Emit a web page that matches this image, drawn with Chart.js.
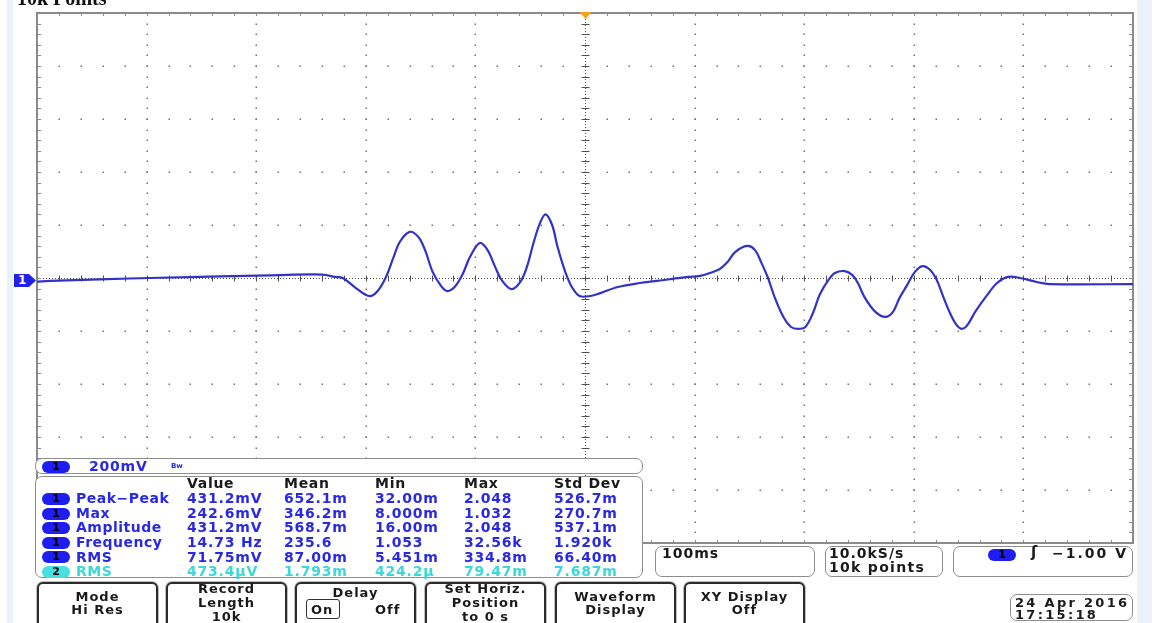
<!DOCTYPE html>
<html>
<head>
<meta charset="utf-8">
<script src="https://cdn.jsdelivr.net/npm/chart.js@4.4.1/dist/chart.umd.min.js"></script>
<style>
body { margin: 0; background: #fff; }
#scope { position: relative; width: 1152px; height: 623px; overflow: hidden; background: #fff;
  font-family: "DejaVu Sans", sans-serif; font-weight: bold; }
#scope canvas { position: absolute; left: 0; top: 0; }
.t { position: absolute; white-space: nowrap; }
.box { position: absolute; box-sizing: border-box; border: 1.5px solid #8e8e8e; border-radius: 7px; background: #fff; }
.pill { position: absolute; box-sizing: border-box; width: 28px; height: 12px; border-radius: 6px;
  font-size: 11px; line-height: 12px; text-align: center; color: #000; }
.btn { position: absolute; top: 582px; width: 121px; height: 50px; box-sizing: border-box;
  border: 2px solid #2b2b2b; border-radius: 6px 6px 0 0; box-shadow: 0 0 0 1px #bdbdbd; background: #fff; }
.strip { position: absolute; top: 0; height: 623px; background: #ebf1f9; }
</style>
</head>
<body>
<div id="scope">
  <canvas id="scopeChart" width="1152" height="623"></canvas>
</div>
<script>
// ch1 trace, 100ms/div and 200mV/div
const timeMs = [-500, -488, -443, -388, -333, -287, -240, -228, -221, -209, -197, -190,
  -182, -175, -169, -160, -152, -146, -139, -132, -126, -119,
  -112, -105, -96, -89, -82, -76, -67, -59,
  -53, -47, -41, -36, -30, -25, -18, -12, -5,
  5, 14, 30, 50, 66, 94, 105, 114, 123, 130, 137, 148, 155, 161,
  167, 173, 181, 188, 194, 201, 208, 214, 222, 228, 237, 244,
  249, 255, 265, 274, 281, 287, 294, 301, 308, 315,
  321, 327, 333, 339, 344, 349, 356, 367, 376, 386, 397, 412, 424, 500];
const ch1mV = [-14, -11, -5, 1, 6, 10, 13, 4, 0, -38, -68, -53,
  0, 75, 136, 174, 155, 106, 23, -26, -49, -34,
  11, 79, 132, 106, 42, -8, -42, -15,
  42, 132, 208, 240, 200, 117, 23, -34, -68,
  -68, -57, -34, -19, -11, 4, 8, 19, 34, 60, 98, 121, 106, 57,
  0, -72, -147, -185, -192, -185, -132, -64, -8, 19, 26, 11,
  -19, -72, -128, -147, -128, -75, -26, 23, 45, 30,
  -8, -72, -132, -177, -192, -177, -128, -64, -19, 4, 0, -15, -23, -23];

// graticule divisions
const timeDivs = [-500, -400, -300, -200, -100, 0, 100, 200, 300, 400, 500];
const voltDivs = [-1000, -800, -600, -400, -200, 0, 200, 400, 600, 800, 1000];

// measurement readout
const measHeads = ['Value', 'Mean', 'Min', 'Max', 'Std Dev'];
const measCh = ['1', '1', '1', '1', '1', '2'];
const measNames = ['Peak\u2212Peak', 'Max', 'Amplitude', 'Frequency', 'RMS', 'RMS'];
const measValue = ['431.2mV', '242.6mV', '431.2mV', '14.73 Hz', '71.75mV', '473.4\u00b5V'];
const measMean = ['652.1m', '346.2m', '568.7m', '235.6', '87.00m', '1.793m'];
const measMin = ['32.00m', '8.000m', '16.00m', '1.053', '5.451m', '424.2\u00b5'];
const measMax = ['2.048', '1.032', '2.048', '32.56k', '334.8m', '79.47m'];
const measStd = ['526.7m', '270.7m', '537.1m', '1.920k', '66.40m', '7.687m'];

const menuLabels = [['Mode', 'Hi Res'], ['Record', 'Length', '10k'], ['Delay'],
  ['Set Horiz.', 'Position', 'to 0 s'], ['Waveform', 'Display'], ['XY Display', 'Off']];

const BLUE = '#2828e6', CYAN = '#3cd8d8', PILL1 = '#1e1ef0', PILL2 = '#46e0e0';
const scope = document.getElementById('scope');

function put(x, base, str, size, color, extra) {
  const d = document.createElement('div');
  d.className = 't';
  d.textContent = str;
  d.style.left = x + 'px';
  d.style.top = (base - 0.846 * size) + 'px';
  d.style.fontSize = size + 'px';
  d.style.lineHeight = size + 'px';
  d.style.color = color || '#1a1a1a';
  Object.assign(d.style, extra || {});
  scope.appendChild(d);
  return d;
}
function putC(cx, base, str, size, extra) {
  return put(cx - 100, base, str, size, '#1a1a1a', Object.assign({width: '200px', textAlign: 'center'}, extra || {}));
}
function box(l, t, w, h, cls, extra) {
  const d = document.createElement('div');
  d.className = cls || 'box';
  Object.assign(d.style, {left: l + 'px', top: t + 'px', width: w + 'px', height: h + 'px'}, extra || {});
  scope.appendChild(d);
  return d;
}
function pill(l, t, ch) {
  const d = box(l, t, 28, 12, 'pill', {background: ch === '2' ? PILL2 : PILL1});
  d.textContent = ch;
  return d;
}

const scopeGrid = {
  id: 'scopeGrid',
  beforeDatasetsDraw(chart) {
    const {ctx, chartArea: a, scales: {x, y}} = chart;
    const minor = (scale, divs) => {
      const out = [];
      for (let i = 0; i < divs.length - 1; i++)
        for (let k = 0; k < 5; k++) out.push(scale.getPixelForValue(divs[i] + (divs[i + 1] - divs[i]) * k / 5));
      out.push(scale.getPixelForValue(divs[divs.length - 1]));
      return out;
    };
    const xMinor = minor(x, timeDivs), yMinor = minor(y, voltDivs);
    const cx = Math.round(x.getPixelForValue(0)) + 0.5, cy = Math.round(y.getPixelForValue(0)) + 0.5;
    const line = (x1, y1, x2, y2) => { ctx.beginPath(); ctx.moveTo(x1, y1); ctx.lineTo(x2, y2); ctx.stroke(); };
    ctx.save();
    ctx.fillStyle = '#727272';
    timeDivs.slice(1, -1).forEach(v => {
      if (v === 0) return;
      const px = Math.round(x.getPixelForValue(v));
      yMinor.forEach(py => ctx.fillRect(px - 0.5, Math.round(py) - 0.5, 1.5, 1.5));
    });
    voltDivs.slice(1, -1).forEach(v => {
      if (v === 0) return;
      const py = Math.round(y.getPixelForValue(v));
      xMinor.forEach(px => ctx.fillRect(Math.round(px) - 0.5, py - 0.5, 1.5, 1.5));
    });
    // centre cross-hair
    ctx.strokeStyle = '#505050';
    ctx.lineWidth = 1;
    ctx.setLineDash([1, 2]);
    line(cx, a.top, cx, a.bottom);
    line(a.left, cy, a.right, cy);
    ctx.setLineDash([]);
    xMinor.forEach(px => line(Math.round(px) + 0.5, cy - 3, Math.round(px) + 0.5, cy + 3));
    yMinor.forEach(py => line(cx - 4, Math.round(py) + 0.5, cx + 4, Math.round(py) + 0.5));
    // ticks on the frame
    ctx.strokeStyle = '#8a8a8a';
    xMinor.forEach(px => {
      const p = Math.round(px) + 0.5;
      line(p, a.top, p, a.top + 3);
      line(p, a.bottom - 3, p, a.bottom);
    });
    yMinor.forEach(py => {
      const p = Math.round(py) + 0.5;
      line(a.left, p, a.left + 4, p);
      line(a.right - 4, p, a.right, p);
    });
    ctx.lineWidth = 2;
    ctx.strokeRect(a.left, a.top, a.right - a.left, a.bottom - a.top);
    // trigger position marker
    ctx.fillStyle = '#f4a21e';
    ctx.beginPath();
    ctx.moveTo(cx - 6, a.top - 1);
    ctx.lineTo(cx + 6, a.top - 1);
    ctx.lineTo(cx, a.top + 6);
    ctx.closePath();
    ctx.fill();
    ctx.restore();
  }
};

new Chart(document.getElementById('scopeChart').getContext('2d'), {
  type: 'line',
  data: {
    datasets: [{
      label: 'CH1',
      data: timeMs.map((t, i) => ({x: t, y: ch1mV[i]})),
      borderColor: '#3232c6',
      borderWidth: 2.2,
      pointRadius: 0,
      tension: 0.35,
      fill: false
    }]
  },
  options: {
    responsive: false,
    animation: false,
    devicePixelRatio: 1,
    layout: {padding: {left: 37, top: 13, right: 19, bottom: 80}},
    scales: {
      x: {type: 'linear', min: timeDivs[0], max: timeDivs[timeDivs.length - 1], display: false},
      y: {type: 'linear', min: voltDivs[0], max: voltDivs[voltDivs.length - 1], display: false}
    },
    plugins: {legend: {display: false}, tooltip: {enabled: false}}
  },
  plugins: [scopeGrid]
});

// side strips
box(7, 0, 6, 623, 'strip');
box(1137, 0, 15, 623, 'strip');

// clipped record label at the very top
put(17, 5, '10k Points', 20, '#111', {fontFamily: '"Liberation Serif", serif'});

// channel 1 ground marker
const gnd = box(14, 274, 22, 13, 't', {background: '#2222e6', color: '#fff', fontSize: '12px', lineHeight: '13px',
  clipPath: 'polygon(0 0, 68% 0, 100% 50%, 68% 100%, 0 100%)', textIndent: '4px'});
gnd.textContent = '1';

// vertical scale bar
box(35, 458, 608, 16);
pill(42, 461, '1');
put(89, 471, '200mV', 14, BLUE, {letterSpacing: '0.8px'});
put(171, 469, 'Bw', 7, BLUE);

// measurement table
box(35, 476, 608, 102);
const cols = [187, 284, 375, 464, 554];
measHeads.forEach((h, i) => put(cols[i], 488, h, 14, '#1a1a1a', {letterSpacing: '0.7px'}));
measNames.forEach((name, r) => {
  const base = 503 + r * 14.6;
  const col = measCh[r] === '2' ? CYAN : BLUE;
  pill(42, base - 10, measCh[r]);
  put(76, base, name, 14, col, {letterSpacing: '0.5px'});
  [measValue, measMean, measMin, measMax, measStd].forEach((arr, i) =>
    put(cols[i], base, arr[r], 14, col, {letterSpacing: '0.8px'}));
});

// status boxes
box(655, 546, 160, 31);
put(662, 558, '100ms', 14, '#1a1a1a', {letterSpacing: '1px'});
box(825, 546, 118, 31);
put(829, 558, '10.0kS/s', 14, '#1a1a1a', {letterSpacing: '1px'});
put(829, 572, '10k points', 14, '#1a1a1a', {letterSpacing: '1.3px'});
box(953, 546, 180, 31);
pill(988, 549, '1');
put(1031, 558, '\u0283', 15, '#1a1a1a');
put(1052, 558, '\u22121.00 V', 14, '#1a1a1a', {letterSpacing: '2px'});
box(1010, 594, 123, 27);
put(1015, 607, '24 Apr 2016', 13, '#1a1a1a', {letterSpacing: '2.3px'});
put(1015, 619, '17:15:18', 13, '#1a1a1a', {letterSpacing: '2.3px'});

// soft-key menu
const menuLeft = [37, 166, 295, 425, 555, 684];
const menuBase = [[601, 614], [593, 607, 621], [597], [593, 607, 621], [601, 614], [601, 614]];
menuLabels.forEach((lines, i) => {
  box(menuLeft[i], 582, 121, 50, 'btn');
  lines.forEach((s, k) => putC(menuLeft[i] + 60.5, menuBase[i][k], s, 13, {letterSpacing: '1px'}));
});
box(306, 599, 34, 20, 'box', {border: '1.5px solid #333', borderRadius: '3px'});
put(311, 614, 'On', 13, '#1a1a1a', {letterSpacing: '1px'});
put(375, 614, 'Off', 13, '#1a1a1a', {letterSpacing: '1px'});
</script>
</body>
</html>
